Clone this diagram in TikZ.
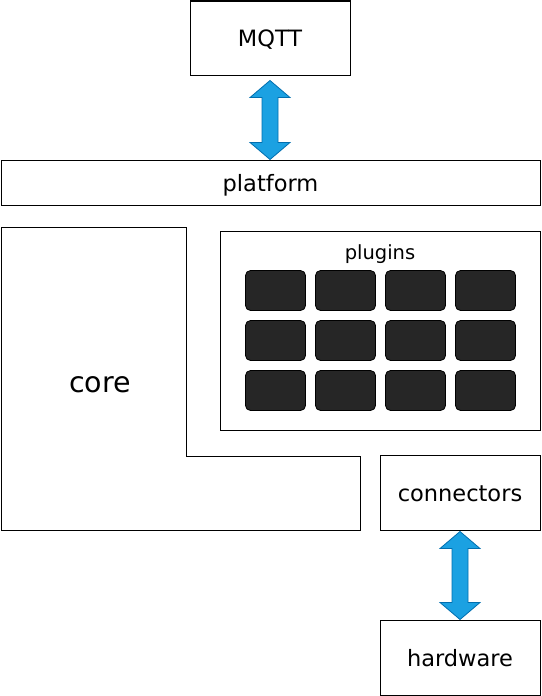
\documentclass[tikz,border=0pt]{standalone}
\usepackage{fontspec}
\setmainfont{DejaVu Sans}
\usetikzlibrary{calc}
\definecolor{arrowblue}{HTML}{1BA1E2}
\definecolor{arrowedge}{HTML}{006EAF}
\definecolor{plugfill}{HTML}{262626}
\tikzset{
    box/.style={draw, line width=1pt, inner sep=0, minimum width=160, minimum height=75, text height=17pt, text depth=0pt, font=\fontsize{22.5}{26}\selectfont},
    plugblock/.style={draw, fill=plugfill, line width=0.8pt, rounded corners=5pt, inner sep=0, minimum width=60, minimum height=40},
    fatarrow/.style={fill=arrowblue, draw=arrowedge, line width=0.8pt}
}
% blue two-headed arrow from #1.south to #2.north, #3 = gap below #1
\newcommand{\fatlink}[3]{%
    \path[fatarrow] let \p1=(#1.south), \p2=(#2.north) in
        (\x1,\y1-#3) -- (\x1+20pt,\y1-#3-17pt) -- (\x1+8pt,\y1-#3-17pt)
        -- (\x1+8pt,\y2+17pt) -- (\x1+20pt,\y2+17pt) -- (\x1,\y2)
        -- (\x1-20pt,\y2+17pt) -- (\x1-8pt,\y2+17pt)
        -- (\x1-8pt,\y1-#3-17pt) -- (\x1-20pt,\y1-#3-17pt) -- cycle;
}
\begin{document}
\begin{tikzpicture}[x=1pt,y=-1pt]
\useasboundingbox (0,0) rectangle (541,696);
%top
\node[box, minimum height=74] (mqtt) at (270,38) {MQTT};
\node[box, minimum width=539, minimum height=45] (platform) at (270.5,182.5) {platform};
%core
\draw[line width=1pt] (1,227) -- (186,227) -- (186,456) -- (360,456) -- (360,530) -- (1,530) -- cycle;
\node[font=\fontsize{28.5}{32}\selectfont, anchor=base] (core) at (100,392) {core};
%plugins
\node[box, minimum width=320, minimum height=199] (plugins) at (380,330.5) {};
\node[font=\fontsize{19.5}{22}\selectfont, anchor=base] (pluglabel) at (380,259) {plugins};
\foreach \i in {0,...,3}{
    \foreach \j in {0,1,2}{
        \node[plugblock] (p\i\j) at (275.5+70*\i,290.5+50*\j) {};
    }
}
%bottom right
\node[box] (connectors) at (460,492.5) {connectors};
\node[box] (hardware) at (460,657.5) {hardware};
%arrows
\fatlink{mqtt}{platform}{5pt}
\fatlink{connectors}{hardware}{1pt}
\end{tikzpicture}
\end{document}
